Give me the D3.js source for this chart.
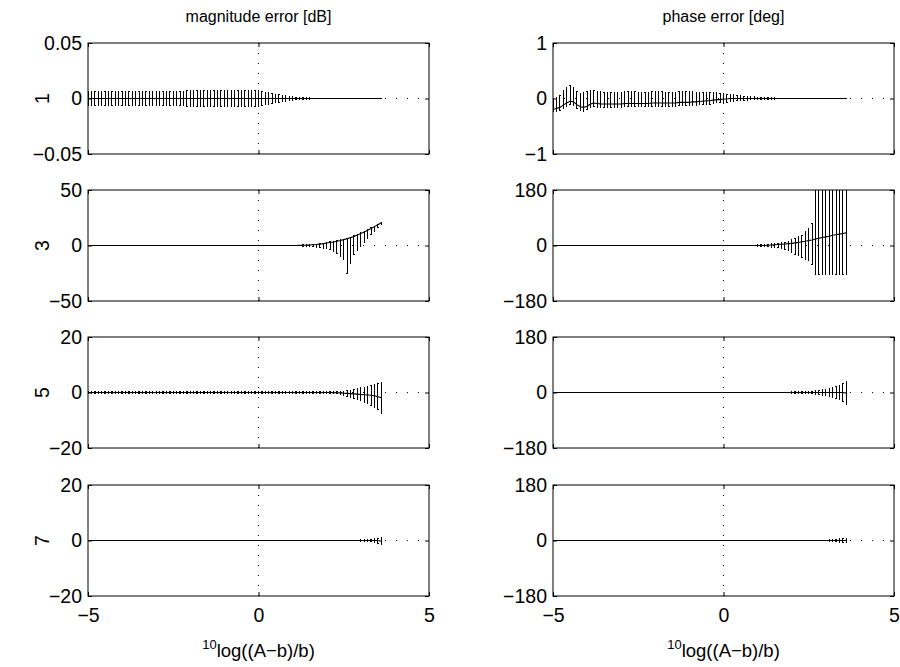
<!DOCTYPE html>
<html>
<head>
<meta charset="utf-8">
<script src="https://cdn.jsdelivr.net/npm/d3@7"></script>
<style>
  body { margin: 0; background: #fff; }
  svg text { font-family: "Liberation Sans", Arial, Helvetica, sans-serif; fill: #000; }
</style>
</head>
<body>
<div id="chart"></div>
<script>
// measurement positions, 10log((A-b)/b)
const xs = [
  -5, -4.9, -4.8, -4.7, -4.6, -4.5, -4.4, -4.3, -4.2, -4.1,
  -4, -3.9, -3.8, -3.7, -3.6, -3.5, -3.4, -3.3, -3.2, -3.1,
  -3, -2.9, -2.8, -2.7, -2.6, -2.5, -2.4, -2.3, -2.2, -2.1,
  -2, -1.9, -1.8, -1.7, -1.6, -1.5, -1.4, -1.3, -1.2, -1.1,
  -1, -0.9, -0.8, -0.7, -0.6, -0.5, -0.4, -0.3, -0.2, -0.1,
  0, 0.1, 0.2, 0.3, 0.4, 0.5, 0.6, 0.7, 0.8, 0.9,
  1, 1.1, 1.2, 1.3, 1.4, 1.5, 1.6, 1.7, 1.8, 1.9,
  2, 2.1, 2.2, 2.3, 2.4, 2.5, 2.6, 2.7, 2.8, 2.9,
  3, 3.1, 3.2, 3.3, 3.4, 3.5, 3.6
];

const orders = ["1", "3", "5", "7"];
const titles = ["magnitude error [dB]", "phase error [deg]"];
const xTicks = [-5, 0, 5];
const magTicks = [[-0.05, 0, 0.05], [-50, 0, 50], [-20, 0, 20], [-20, 0, 20]];
const phaseTicks = [[-1, 0, 1], [-180, 0, 180], [-180, 0, 180], [-180, 0, 180]];

// ---- order 1 ----
const magMid1 = [
  0,0,0,0,0,0,0,0,0,0,
  0,0,0,0,0,0,0,0,0,0,
  0,0,0,0,0,0,0,0,0,0,
  0,0,0,0,0,0,0,0,0,0,
  0,0,0,0,0,0,0,0,0,0,
  0,0,0,0,0,0,0,0,0,0,
  0,0,0,0,0,0,0,0,0,0,
  0,0,0,0,0,0,0,0,0,0,
  0,0,0,0,0,0,0
];
const magErr1 = [
  0.0062,0.0062,0.0062,0.0062,0.0062,0.0062,0.0062,0.0062,0.0062,0.0062,
  0.0062,0.0062,0.0062,0.0062,0.0062,0.0062,0.0062,0.0062,0.0062,0.0062,
  0.0062,0.0064,0.0064,0.0065,0.0065,0.0066,0.0066,0.0067,0.0067,0.0068,
  0.0068,0.0069,0.0069,0.0070,0.0070,0.0071,0.0072,0.0072,0.0072,0.0072,
  0.0072,0.0072,0.0072,0.0072,0.0072,0.0072,0.0072,0.0072,0.0071,0.0070,
  0.0068,0.0064,0.0058,0.0052,0.0046,0.0040,0.0034,0.0029,0.0024,0.0019,
  0.0015,0.0012,0.0010,0.0008,0.0006,0.0005,0.0004,0.0003,0.0003,0.0002,
  0.0002,0.0002,0.0002,0.0002,0.0002,0.0002,0.0002,0.0002,0.0002,0.0001,
  0.0001,0.0001,0.0001,0.0001,0.0001,0.0001,0.0001
];
const phaseMid1 = [
  -0.20,-0.18,-0.16,-0.12,-0.08,-0.05,-0.06,-0.11,-0.15,-0.16,
  -0.14,-0.10,-0.08,-0.09,-0.10,-0.10,-0.10,-0.10,-0.10,-0.10,
  -0.10,-0.09,-0.09,-0.09,-0.09,-0.09,-0.09,-0.09,-0.09,-0.08,
  -0.08,-0.08,-0.08,-0.08,-0.08,-0.08,-0.08,-0.07,-0.07,-0.07,
  -0.07,-0.06,-0.06,-0.05,-0.05,-0.04,-0.04,-0.03,-0.02,-0.02,
  -0.01,-0.01,0,0,0,0,0,0,0,0,
  0,0,0,0,0,0,0,0,0,0,
  0,0,0,0,0,0,0,0,0,0,
  0,0,0,0,0,0,0
];
const phaseDown1 = [
  0.04,0.05,0.05,0.06,0.06,0.06,0.06,0.07,0.07,0.07,
  0.06,0.07,0.07,0.07,0.06,0.06,0.06,0.06,0.06,0.06,
  0.06,0.06,0.06,0.06,0.06,0.06,0.06,0.06,0.06,0.06,
  0.06,0.06,0.06,0.06,0.06,0.06,0.06,0.06,0.06,0.06,
  0.06,0.06,0.06,0.06,0.06,0.06,0.06,0.06,0.06,0.06,
  0.06,0.06,0.055,0.05,0.045,0.04,0.035,0.03,0.025,0.02,
  0.02,0.018,0.016,0.014,0.012,0.01,0.009,0.008,0.007,0.006,
  0.006,0.005,0.005,0.005,0.005,0.005,0.005,0.005,0.005,0.005,
  0.005,0.005,0.005,0.005,0.005,0.005,0.005
];
const phaseUp1 = [
  0.18,0.20,0.22,0.26,0.28,0.28,0.26,0.24,0.24,0.26,
  0.26,0.24,0.23,0.22,0.22,0.21,0.21,0.21,0.21,0.21,
  0.21,0.21,0.21,0.21,0.21,0.20,0.20,0.20,0.20,0.20,
  0.20,0.20,0.20,0.19,0.19,0.19,0.19,0.19,0.19,0.19,
  0.19,0.18,0.17,0.16,0.16,0.15,0.14,0.13,0.12,0.11,
  0.10,0.09,0.08,0.07,0.06,0.05,0.045,0.04,0.035,0.03,
  0.025,0.018,0.016,0.014,0.012,0.01,0.009,0.008,0.007,0.006,
  0.006,0.005,0.005,0.005,0.005,0.005,0.005,0.005,0.005,0.005,
  0.005,0.005,0.005,0.005,0.005,0.005,0.005
];

// ---- order 3 ----
const magMid3 = [
  0,0,0,0,0,0,0,0,0,0,
  0,0,0,0,0,0,0,0,0,0,
  0,0,0,0,0,0,0,0,0,0,
  0,0,0,0,0,0,0,0,0,0,
  0,0,0,0,0,0,0,0,0,0,
  0,0,0,0,0,0,0,0,0,0,
  0,0.05,0.1,0.2,0.3,0.5,0.7,0.9,1.2,1.7,
  2.2,2.7,3.2,3.8,4.5,5.3,6.1,7.1,8.2,9.4,
  10.8,12.2,13.7,15.3,17.0,18.7,20.4
];
const magDown3 = [
  0.2,0.2,0.2,0.2,0.2,0.2,0.2,0.2,0.2,0.2,
  0.2,0.2,0.2,0.2,0.2,0.2,0.2,0.2,0.2,0.2,
  0.2,0.2,0.2,0.2,0.2,0.2,0.2,0.2,0.2,0.2,
  0.2,0.2,0.2,0.2,0.2,0.2,0.2,0.2,0.2,0.2,
  0.2,0.2,0.2,0.2,0.2,0.2,0.2,0.2,0.2,0.2,
  0.2,0.2,0.2,0.2,0.2,0.2,0.2,0.2,0.2,0.2,
  0.2,0.35,0.5,0.7,0.9,1.3,1.8,2.3,3.0,4.0,
  5.2,6.7,8.7,10.8,14.5,17.8,31.1,23.1,16.7,13.9,
  11.8,9.7,7.7,5.8,4.0,2.7,1.9
];
const magUp3 = [
  0.2,0.2,0.2,0.2,0.2,0.2,0.2,0.2,0.2,0.2,
  0.2,0.2,0.2,0.2,0.2,0.2,0.2,0.2,0.2,0.2,
  0.2,0.2,0.2,0.2,0.2,0.2,0.2,0.2,0.2,0.2,
  0.2,0.2,0.2,0.2,0.2,0.2,0.2,0.2,0.2,0.2,
  0.2,0.2,0.2,0.2,0.2,0.2,0.2,0.2,0.2,0.2,
  0.2,0.2,0.2,0.2,0.2,0.2,0.2,0.2,0.2,0.2,
  0.2,0.2,0.2,0.3,0.3,0.4,0.4,0.4,0.5,0.5,
  0.5,0.5,0.5,0.5,0.5,0.5,0.5,0.5,0.5,0.5,
  0.5,0.5,0.5,0.5,0.5,0.5,0.5
];
const phaseMid3 = [
  0,0,0,0,0,0,0,0,0,0,
  0,0,0,0,0,0,0,0,0,0,
  0,0,0,0,0,0,0,0,0,0,
  0,0,0,0,0,0,0,0,0,0,
  0,0,0,0,0,0,0,0,0,0,
  0,0,0,0,0,0,0,0,0,0,
  0,0,0,1,1.6,2.4,3.2,4,5,6,
  7,8.4,10,12,14,16,18,21,24,26,
  28,30,33,35,37,39,41
];
const phaseDown3 = [
  0.4,0.4,0.4,0.4,0.4,0.4,0.4,0.4,0.4,0.4,
  0.4,0.4,0.4,0.4,0.4,0.4,0.4,0.4,0.4,0.4,
  0.4,0.4,0.4,0.4,0.4,0.4,0.4,0.4,0.4,0.4,
  0.4,0.4,0.4,0.4,0.4,0.4,0.4,0.4,0.4,0.4,
  0.4,0.4,0.4,0.4,0.4,0.4,0.4,0.4,0.4,0.4,
  0.4,0.4,0.4,0.4,0.4,0.6,0.8,1.0,1.2,1.6,
  2.0,2.6,3.2,5,6.6,8.4,10.6,13,17,22,
  29,36,44,52,58,66,80,115,118,120,
  122,124,127,129,131,133,135
];
const phaseUp3 = [
  0.4,0.4,0.4,0.4,0.4,0.4,0.4,0.4,0.4,0.4,
  0.4,0.4,0.4,0.4,0.4,0.4,0.4,0.4,0.4,0.4,
  0.4,0.4,0.4,0.4,0.4,0.4,0.4,0.4,0.4,0.4,
  0.4,0.4,0.4,0.4,0.4,0.4,0.4,0.4,0.4,0.4,
  0.4,0.4,0.4,0.4,0.4,0.4,0.4,0.4,0.4,0.4,
  0.4,0.4,0.4,0.4,0.4,0.6,0.8,1.0,1.2,1.6,
  2.0,2.6,3.2,3,3.4,3.6,4.2,5,6,8,
  11,13.6,18,22,30,38,54,300,300,300,
  300,300,300,300,300,300,300
];

// ---- order 5 ----
const magMid5 = [
  0,0,0,0,0,0,0,0,0,0,
  0,0,0,0,0,0,0,0,0,0,
  0,0,0,0,0,0,0,0,0,0,
  0,0,0,0,0,0,0,0,0,0,
  0,0,0,0,0,0,0,0,0,0,
  0,0,0,0,0,0,0,0,0,0,
  0,0,0,0,0,0,0,0,0,0,
  0,0,-0.05,-0.1,-0.15,-0.25,-0.3,-0.4,-0.5,-0.6,
  -0.7,-0.8,-0.9,-1.0,-1.2,-1.5,-1.9
];
const magErr5 = [
  0.3,0.3,0.3,0.3,0.3,0.3,0.3,0.3,0.3,0.3,
  0.3,0.3,0.3,0.3,0.3,0.3,0.3,0.3,0.3,0.3,
  0.3,0.3,0.3,0.3,0.3,0.3,0.3,0.3,0.3,0.3,
  0.3,0.3,0.3,0.3,0.3,0.3,0.3,0.3,0.3,0.3,
  0.3,0.3,0.3,0.3,0.3,0.3,0.3,0.3,0.3,0.3,
  0.3,0.3,0.3,0.3,0.3,0.3,0.3,0.3,0.3,0.3,
  0.3,0.3,0.3,0.3,0.3,0.3,0.3,0.3,0.3,0.3,
  0.3,0.3,0.3,0.4,0.55,0.75,1.0,1.3,1.6,2.0,
  2.35,2.75,3.2,3.7,4.2,4.8,5.5
];
const phaseMid5 = [
  0,0,0,0,0,0,0,0,0,0,
  0,0,0,0,0,0,0,0,0,0,
  0,0,0,0,0,0,0,0,0,0,
  0,0,0,0,0,0,0,0,0,0,
  0,0,0,0,0,0,0,0,0,0,
  0,0,0,0,0,0,0,0,0,0,
  0,0,0,0,0,0,0,0,0,0,
  0,0,0,0,0,0,0,0,0,0,
  0,0,0,0,0,0,-2
];
const phaseErr5 = [
  1.6,1.6,1.6,1.6,1.6,1.6,1.6,1.6,1.6,1.6,
  1.6,1.6,1.6,1.6,1.6,1.6,1.6,1.6,1.6,1.6,
  1.6,1.6,1.6,1.6,1.6,1.6,1.6,1.6,1.6,1.6,
  1.6,1.6,1.6,1.6,1.6,1.6,1.6,1.6,1.6,1.6,
  1.6,1.6,1.6,1.6,1.6,1.6,1.6,1.6,1.6,1.6,
  1.6,1.6,1.6,1.6,1.6,1.6,1.6,1.6,1.6,1.6,
  1.6,1.6,1.6,1.6,1.6,1.6,1.6,1.6,1.6,1.6,
  2.0,2.0,2.4,2.8,3.2,4.0,4.8,6.0,7.2,8.8,
  10.6,12.6,15,18,22,28,38
];

// ---- order 7 ----
const magMid7 = [
  0,0,0,0,0,0,0,0,0,0,
  0,0,0,0,0,0,0,0,0,0,
  0,0,0,0,0,0,0,0,0,0,
  0,0,0,0,0,0,0,0,0,0,
  0,0,0,0,0,0,0,0,0,0,
  0,0,0,0,0,0,0,0,0,0,
  0,0,0,0,0,0,0,0,0,0,
  0,0,0,0,0,0,0,0,0,0,
  0,0,0,0,0,-0.1,-0.2
];
const magErr7 = [
  0.15,0.15,0.15,0.15,0.15,0.15,0.15,0.15,0.15,0.15,
  0.15,0.15,0.15,0.15,0.15,0.15,0.15,0.15,0.15,0.15,
  0.15,0.15,0.15,0.15,0.15,0.15,0.15,0.15,0.15,0.15,
  0.15,0.15,0.15,0.15,0.15,0.15,0.15,0.15,0.15,0.15,
  0.15,0.15,0.15,0.15,0.15,0.15,0.15,0.15,0.15,0.15,
  0.15,0.15,0.15,0.15,0.15,0.15,0.15,0.15,0.15,0.15,
  0.15,0.15,0.15,0.15,0.15,0.15,0.15,0.15,0.15,0.15,
  0.15,0.15,0.15,0.15,0.15,0.15,0.15,0.15,0.15,0.15,
  0.2,0.3,0.4,0.5,0.7,0.9,1.2
];
const phaseMid7 = [
  0,0,0,0,0,0,0,0,0,0,
  0,0,0,0,0,0,0,0,0,0,
  0,0,0,0,0,0,0,0,0,0,
  0,0,0,0,0,0,0,0,0,0,
  0,0,0,0,0,0,0,0,0,0,
  0,0,0,0,0,0,0,0,0,0,
  0,0,0,0,0,0,0,0,0,0,
  0,0,0,0,0,0,0,0,0,0,
  0,0,0,0,0,0,0
];
const phaseErr7 = [
  1.2,1.2,1.2,1.2,1.2,1.2,1.2,1.2,1.2,1.2,
  1.2,1.2,1.2,1.2,1.2,1.2,1.2,1.2,1.2,1.2,
  1.2,1.2,1.2,1.2,1.2,1.2,1.2,1.2,1.2,1.2,
  1.2,1.2,1.2,1.2,1.2,1.2,1.2,1.2,1.2,1.2,
  1.2,1.2,1.2,1.2,1.2,1.2,1.2,1.2,1.2,1.2,
  1.2,1.2,1.2,1.2,1.2,1.2,1.2,1.2,1.2,1.2,
  1.2,1.2,1.2,1.2,1.2,1.2,1.2,1.2,1.2,1.2,
  1.2,1.2,1.2,1.2,1.2,1.2,1.2,1.2,1.2,1.2,
  1.6,2.4,3.2,4.0,5.2,6.4,8.0
];

// panel table: row = order, col 0 = magnitude, col 1 = phase
const panels = [
  {row: 0, col: 0, mid: magMid1,   down: magErr1,    up: magErr1,    ticks: magTicks[0]},
  {row: 0, col: 1, mid: phaseMid1, down: phaseDown1, up: phaseUp1,   ticks: phaseTicks[0]},
  {row: 1, col: 0, mid: magMid3,   down: magDown3,   up: magUp3,     ticks: magTicks[1]},
  {row: 1, col: 1, mid: phaseMid3, down: phaseDown3, up: phaseUp3,   ticks: phaseTicks[1]},
  {row: 2, col: 0, mid: magMid5,   down: magErr5,    up: magErr5,    ticks: magTicks[2]},
  {row: 2, col: 1, mid: phaseMid5, down: phaseErr5,  up: phaseErr5,  ticks: phaseTicks[2]},
  {row: 3, col: 0, mid: magMid7,   down: magErr7,    up: magErr7,    ticks: magTicks[3]},
  {row: 3, col: 1, mid: phaseMid7, down: phaseErr7,  up: phaseErr7,  ticks: phaseTicks[3]}
];

const width = 900, height = 667;
const colX = [88, 553], rowY = [43, 190, 337, 485];
const pw = 341, ph = 111;
const tickLen = 4, capHalf = 0.02;
const fmt = d3.format("");

const svg = d3.select("#chart").append("svg")
    .attr("width", width)
    .attr("height", height);

const x = d3.scaleLinear().domain([-5, 5]).range([0, pw]);

panels.forEach((p, k) => {
    const y = d3.scaleLinear().domain([p.ticks[0], p.ticks[2]]).range([ph, 0]);
    const g = svg.append("g").attr("transform", `translate(${colX[p.col]},${rowY[p.row]})`);

    g.append("clipPath").attr("id", "clip" + k)
      .append("rect").attr("width", pw).attr("height", ph);

    // dotted grid at the zero ticks
    g.append("line")
        .attr("x1", x(0)).attr("x2", x(0)).attr("y1", 0).attr("y2", ph)
        .attr("stroke", "#000").attr("stroke-dasharray", "1,9");
    g.append("line")
        .attr("x1", 0).attr("x2", pw).attr("y1", y(0)).attr("y2", y(0))
        .attr("stroke", "#000").attr("stroke-dasharray", "1,10");

    const plot = g.append("g").attr("clip-path", `url(#clip${k})`);
    const idx = d3.range(xs.length);

    // error bars
    const bars = plot.append("g")
        .attr("stroke", "#000").attr("stroke-width", 1).attr("fill", "none")
        .attr("shape-rendering", "crispEdges");
    bars.selectAll(".bar").data(idx).enter().append("path")
        .attr("class", "bar")
        .attr("d", i => {
            const xi = x(xs[i]), cl = x(xs[i] - capHalf), cr = x(xs[i] + capHalf);
            const lo = y(p.mid[i] - p.down[i]), hi = y(p.mid[i] + p.up[i]);
            return `M${xi},${lo}V${hi}M${cl},${lo}H${cr}M${cl},${hi}H${cr}`;
        });

    // mean line
    plot.append("path")
        .datum(idx)
        .attr("fill", "none").attr("stroke", "#000").attr("stroke-width", 1.1)
        .attr("d", d3.line().x(i => x(xs[i])).y(i => y(p.mid[i])));

    // axes, ticks pointing inward
    g.append("g")
        .call(d3.axisLeft(y).tickValues(p.ticks).tickFormat(fmt)
            .tickSizeInner(-tickLen).tickSizeOuter(0).tickPadding(6));
    g.append("g").attr("transform", `translate(${pw},0)`)
        .call(d3.axisRight(y).tickValues(p.ticks).tickFormat("")
            .tickSizeInner(-tickLen).tickSizeOuter(0));
    g.append("g")
        .call(d3.axisTop(x).tickValues(xTicks).tickFormat("")
            .tickSizeInner(-tickLen).tickSizeOuter(0));
    g.append("g").attr("transform", `translate(0,${ph})`)
        .call(d3.axisBottom(x).tickValues(xTicks).tickFormat(p.row === 3 ? fmt : "")
            .tickSizeInner(-tickLen).tickSizeOuter(0).tickPadding(12));

    g.selectAll(".domain").remove();
    g.selectAll(".tick line").attr("stroke", "#000");
    g.selectAll(".tick text").attr("font-size", 19.5)
        .attr("font-family", "'Liberation Sans', Arial, sans-serif");

    // box
    g.append("rect")
        .attr("width", pw).attr("height", ph)
        .attr("fill", "none").attr("stroke", "#000").attr("stroke-width", 1);

    if (p.col === 0) {
        g.append("text")
            .attr("transform", `translate(-46,${ph / 2}) rotate(-90)`)
            .attr("text-anchor", "middle")
            .attr("dy", "0.35em")
            .attr("font-size", 19.5)
            .text(orders[p.row]);
    }

    if (p.row === 0) {
        g.append("text")
            .attr("x", pw / 2).attr("y", -21)
            .attr("text-anchor", "middle")
            .attr("font-size", 16)
            .text(titles[p.col]);
    }

    if (p.row === 3) {
        const lab = g.append("text")
            .attr("x", pw / 2).attr("y", ph + 61)
            .attr("text-anchor", "middle")
            .attr("font-size", 18.5);
        lab.append("tspan").attr("font-size", 13).attr("dy", -8).text("10");
        lab.append("tspan").attr("dy", 8).text("log((A\u2212b)/b)");
    }
});
</script>
</body>
</html>
